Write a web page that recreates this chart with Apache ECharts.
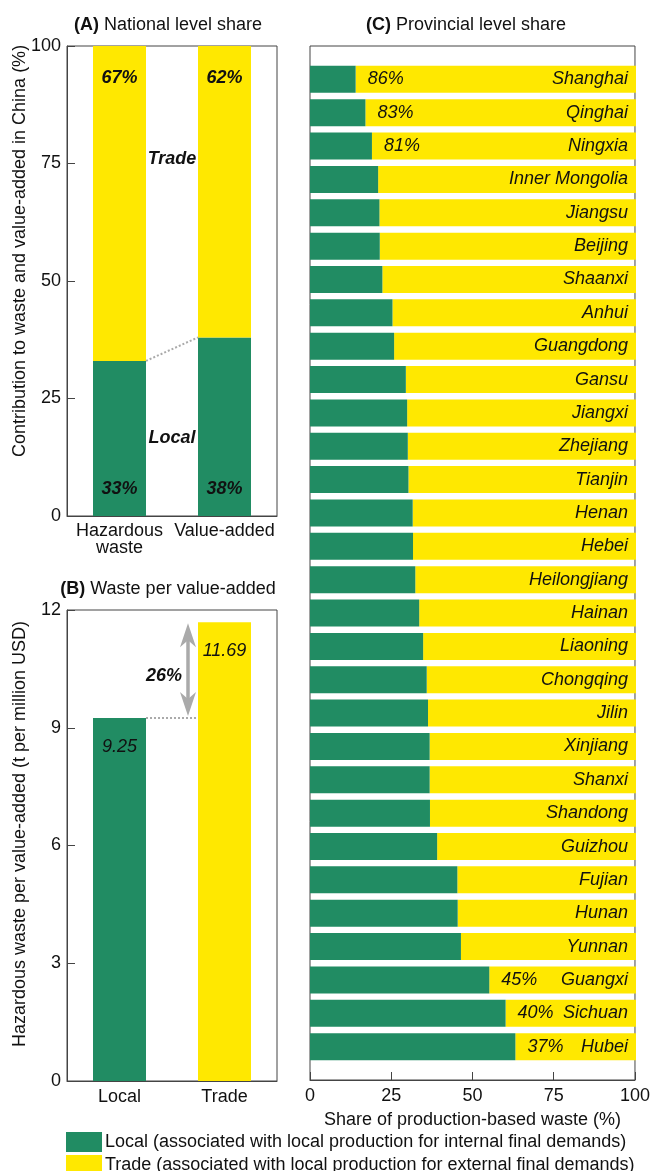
<!DOCTYPE html>
<html>
<head>
<meta charset="utf-8">
<script src="https://cdn.jsdelivr.net/npm/echarts@6/dist/echarts.min.js"></script>
<style>
  html, body { margin: 0; padding: 0; background: #fff; }
  #chart { width: 653px; height: 1171px; }
</style>
</head>
<body>
<div id="chart"></div>
<script>
// ---- data ----
const LOCAL_NAME = 'Local (associated with local production for internal final demands)';
const TRADE_NAME = 'Trade (associated with local production for external final demands)';

// (A) national level share, %
const nationalCategories = ['Hazardous\nwaste', 'Value-added'];
const nationalLocal = [33, 38];
const nationalTrade = [67, 62];
const nationalTicks = { min: 0, max: 100, interval: 25 };

// (B) hazardous waste per value-added, t per million USD
const intensityCategories = ['Local', 'Trade'];
const intensityLocal = 9.25;
const intensityTrade = 11.69;
const intensityTicks = { min: 0, max: 12, interval: 3 };

// (C) provincial level share, %
const provinces = ['Shanghai', 'Qinghai', 'Ningxia', 'Inner Mongolia', 'Jiangsu', 'Beijing',
  'Shaanxi', 'Anhui', 'Guangdong', 'Gansu', 'Jiangxi', 'Zhejiang', 'Tianjin', 'Henan', 'Hebei',
  'Heilongjiang', 'Hainan', 'Liaoning', 'Chongqing', 'Jilin', 'Xinjiang', 'Shanxi', 'Shandong',
  'Guizhou', 'Fujian', 'Hunan', 'Yunnan', 'Guangxi', 'Sichuan', 'Hubei'];
const provinceLocal = [14, 17, 19, 20.9, 21.3, 21.4, 22.2, 25.3, 25.8, 29.4, 29.8, 30.0, 30.2, 31.5, 31.6,
  32.3, 33.5, 34.7, 35.8, 36.2, 36.7, 36.7, 36.8, 39.0, 45.2, 45.3, 46.3, 55, 60, 63];
const provinceTrade = [86, 83, 81, 79.1, 78.7, 78.6, 77.8, 74.7, 74.2, 70.6, 70.2, 70.0, 69.8, 68.5, 68.4,
  67.7, 66.5, 65.3, 64.2, 63.8, 63.3, 63.3, 63.2, 61.0, 54.8, 54.7, 53.7, 45, 40, 37];
const labelledProvinces = ['Shanghai', 'Qinghai', 'Ningxia', 'Guangxi', 'Sichuan', 'Hubei'];
const shareTicks = { min: 0, max: 100, interval: 25 };

// ---- style ----
const GREEN = '#218c63';
const YELLOW = '#ffe800';
const INK = '#111';
const FRAME = '#444';
const GREY = '#aaaaaa';
const FONT = "'Liberation Sans', Arial, Helvetica, sans-serif";
const FS = 18;

const chart = echarts.init(document.getElementById('chart'), null, { renderer: 'canvas' });

const frameGrid = { show: true, borderColor: FRAME, borderWidth: 1, backgroundColor: 'transparent' };
const tickLabel = { fontSize: FS, color: INK, fontFamily: FONT };
const insideTick = { show: true, inside: true, length: 8, lineStyle: { color: FRAME, width: 1 } };

// bars in (C) sit on a band inset by half a row at each end of the frame
const cTop = 46, cHeight = 1034, cRows = provinces.length + 1;
const cInset = cHeight / cRows / 2;

function title(prefix, rest, x, y) {
  return {
    text: '{b|' + prefix + '} ' + rest,
    left: x, top: y, textAlign: 'center', padding: 0,
    textStyle: {
      fontSize: FS, fontWeight: 'normal', color: INK, fontFamily: FONT,
      rich: { b: { fontSize: FS, fontWeight: 'bold', color: INK, fontFamily: FONT } }
    }
  };
}

function legendRow(name, y) {
  return {
    orient: 'horizontal', left: 66, top: y, padding: 0,
    itemWidth: 36, itemHeight: 20, icon: 'rect', selectedMode: false,
    data: [name],
    textStyle: { fontSize: FS, color: INK, fontFamily: FONT, padding: [0, 0, 0, -2] }
  };
}

const option = {
  animation: false,
  backgroundColor: '#fff',
  textStyle: { fontFamily: FONT },
  title: [
    title('(A)', 'National level share', 168, 16),
    title('(B)', 'Waste per value-added', 168, 580),
    title('(C)', 'Provincial level share', 466, 16)
  ],
  legend: [legendRow(LOCAL_NAME, 1132), legendRow(TRADE_NAME, 1155)],
  grid: [
    Object.assign({ left: 67, top: 46, width: 210, height: 470 }, frameGrid),
    Object.assign({ left: 67, top: 610, width: 210, height: 471 }, frameGrid),
    Object.assign({ left: 310, top: cTop, width: 326, height: cHeight }, frameGrid),
    { left: 310, top: cTop + cInset, width: 326, height: cHeight - 2 * cInset }
  ],
  xAxis: [
    {
      type: 'category', gridIndex: 0, data: nationalCategories,
      axisLine: { lineStyle: { color: FRAME } }, axisTick: { show: false },
      axisLabel: Object.assign({ margin: 7, lineHeight: 17, interval: 0, hideOverlap: false }, tickLabel)
    },
    {
      type: 'category', gridIndex: 1, data: intensityCategories,
      axisLine: { lineStyle: { color: FRAME } }, axisTick: { show: false },
      axisLabel: Object.assign({ margin: 7, interval: 0 }, tickLabel)
    },
    {
      type: 'value', gridIndex: 2, min: shareTicks.min, max: shareTicks.max, interval: shareTicks.interval,
      axisLine: { show: true, lineStyle: { color: FRAME } }, axisTick: insideTick,
      splitLine: { show: false },
      axisLabel: Object.assign({ margin: 7 }, tickLabel),
      name: 'Share of production-based waste (%)', nameLocation: 'middle', nameGap: 31,
      nameTextStyle: { fontSize: FS, color: INK, fontFamily: FONT }
    },
    { type: 'value', gridIndex: 3, min: shareTicks.min, max: shareTicks.max, show: false }
  ],
  yAxis: [
    {
      type: 'value', gridIndex: 0, min: nationalTicks.min, max: nationalTicks.max, interval: nationalTicks.interval,
      axisLine: { show: true, lineStyle: { color: FRAME } }, axisTick: insideTick,
      splitLine: { show: false }, axisLabel: Object.assign({ margin: 6 }, tickLabel)
    },
    {
      type: 'value', gridIndex: 1, min: intensityTicks.min, max: intensityTicks.max, interval: intensityTicks.interval,
      axisLine: { show: true, lineStyle: { color: FRAME } }, axisTick: insideTick,
      splitLine: { show: false }, axisLabel: Object.assign({ margin: 6 }, tickLabel)
    },
    { type: 'value', gridIndex: 2, min: 0, max: 1, show: false },
    { type: 'category', gridIndex: 3, data: provinces, inverse: true, show: false }
  ],
  series: [
    // (A)
    {
      name: LOCAL_NAME, type: 'bar', xAxisIndex: 0, yAxisIndex: 0, stack: 'national',
      data: nationalLocal, barWidth: 53, itemStyle: { color: GREEN },
      label: {
        show: true, position: 'insideBottom', distance: 18, formatter: '{c}%',
        fontSize: FS, fontStyle: 'italic', fontWeight: 'bold', color: INK, fontFamily: FONT
      }
    },
    {
      name: TRADE_NAME, type: 'bar', xAxisIndex: 0, yAxisIndex: 0, stack: 'national',
      data: nationalTrade, barWidth: 53, itemStyle: { color: YELLOW },
      label: {
        show: true, position: 'insideTop', distance: 23, formatter: '{c}%',
        fontSize: FS, fontStyle: 'italic', fontWeight: 'bold', color: INK, fontFamily: FONT
      }
    },
    // (B)
    {
      name: LOCAL_NAME, type: 'bar', xAxisIndex: 1, yAxisIndex: 1, stack: 'intensity',
      data: [intensityLocal, '-'], barWidth: 53, itemStyle: { color: GREEN },
      label: {
        show: true, position: 'insideTop', distance: 20, formatter: (p) => p.value.toFixed(2),
        fontSize: FS, fontStyle: 'italic', color: INK, fontFamily: FONT
      }
    },
    {
      name: TRADE_NAME, type: 'bar', xAxisIndex: 1, yAxisIndex: 1, stack: 'intensity',
      data: ['-', intensityTrade], barWidth: 53, itemStyle: { color: YELLOW },
      label: {
        show: true, position: 'insideTop', distance: 20, formatter: (p) => p.value.toFixed(2),
        fontSize: FS, fontStyle: 'italic', color: INK, fontFamily: FONT
      }
    },
    // (C)
    {
      name: LOCAL_NAME, type: 'bar', xAxisIndex: 3, yAxisIndex: 3, stack: 'province', z: 3,
      data: provinceLocal, barWidth: 27, itemStyle: { color: GREEN },
      label: {
        show: true, position: 'right', distance: 12,
        formatter: (p) => labelledProvinces.includes(p.name) ? provinceTrade[p.dataIndex] + '%' : '',
        fontSize: FS, fontStyle: 'italic', color: INK, fontFamily: FONT
      }
    },
    {
      name: TRADE_NAME, type: 'bar', xAxisIndex: 3, yAxisIndex: 3, stack: 'province', z: 2,
      data: provinceTrade, barWidth: 27, itemStyle: { color: YELLOW },
      label: {
        show: true, position: 'insideRight', distance: 8, formatter: (p) => p.name,
        fontSize: FS, fontStyle: 'italic', color: INK, fontFamily: FONT
      }
    }
  ]
};

chart.setOption(option);

// ---- annotations placed from the axes' own scales ----
const half = 53 / 2;
const pA = (i, v) => chart.convertToPixel({ xAxisIndex: 0, yAxisIndex: 0 }, [i, v]);
const pB = (i, v) => chart.convertToPixel({ xAxisIndex: 1, yAxisIndex: 1 }, [i, v]);

const a0 = pA(0, nationalLocal[0]);
const a1 = pA(1, nationalLocal[1]);
const aTradeLbl = pA(0, 76);
const aLocalLbl = pA(0, 16.5);
const aMidX = (a0[0] + a1[0]) / 2;

const b0 = pB(0, intensityLocal);
const b1 = pB(1, intensityTrade);
const arrowX = b1[0] - half - 10;
const arrowTop = b1[1] + 1;
const arrowBot = b0[1] - 2;
const gapPct = Math.round((intensityTrade / intensityLocal - 1) * 100);

function head(x, tipY, dir) {
  // barbed arrow head, dir = 1 points up, -1 points down
  return {
    type: 'polygon', z: 10,
    shape: { points: [[x, tipY], [x - 8, tipY + dir * 24], [x, tipY + dir * 17], [x + 8, tipY + dir * 24]] },
    style: { fill: GREY }
  };
}

const annoText = (text, x, y, extra) => ({
  type: 'text', x: x, y: y, z: 10,
  style: Object.assign({
    text: text, fill: INK, fontSize: FS, fontFamily: FONT, fontStyle: 'italic', fontWeight: 'bold',
    align: 'center', verticalAlign: 'middle'
  }, extra || {})
});

const axisTitle = (text, x, y) => ({
  type: 'text', x: x, y: y, rotation: Math.PI / 2,
  style: { text: text, fill: INK, fontSize: FS, fontFamily: FONT, align: 'center', verticalAlign: 'middle' }
});

chart.setOption({
  graphic: [
    axisTitle('Contribution to waste and value-added in China (%)', 20, 251),
    axisTitle('Hazardous waste per value-added (t per million USD)', 20, 834),
    // (A) connector between local bar tops and group labels
    {
      type: 'line', z: 10,
      shape: { x1: a0[0] + half, y1: a0[1], x2: a1[0] - half, y2: a1[1] },
      style: { stroke: GREY, lineWidth: 2, lineDash: [2, 2] }
    },
    annoText('Trade', aMidX, aTradeLbl[1]),
    annoText('Local', aMidX, aLocalLbl[1]),
    // (B) reference line and difference arrow
    {
      type: 'line', z: 10,
      shape: { x1: b0[0] + half, y1: b0[1], x2: b1[0] - half, y2: b0[1] },
      style: { stroke: GREY, lineWidth: 2, lineDash: [2, 2] }
    },
    {
      type: 'line', z: 10,
      shape: { x1: arrowX, y1: arrowTop + 16, x2: arrowX, y2: arrowBot - 16 },
      style: { stroke: GREY, lineWidth: 3.5 }
    },
    head(arrowX, arrowTop, 1),
    head(arrowX, arrowBot, -1),
    annoText(gapPct + '%', arrowX - 6, (arrowTop + arrowBot) / 2 + 6, { align: 'right' })
  ]
});
</script>
</body>
</html>
